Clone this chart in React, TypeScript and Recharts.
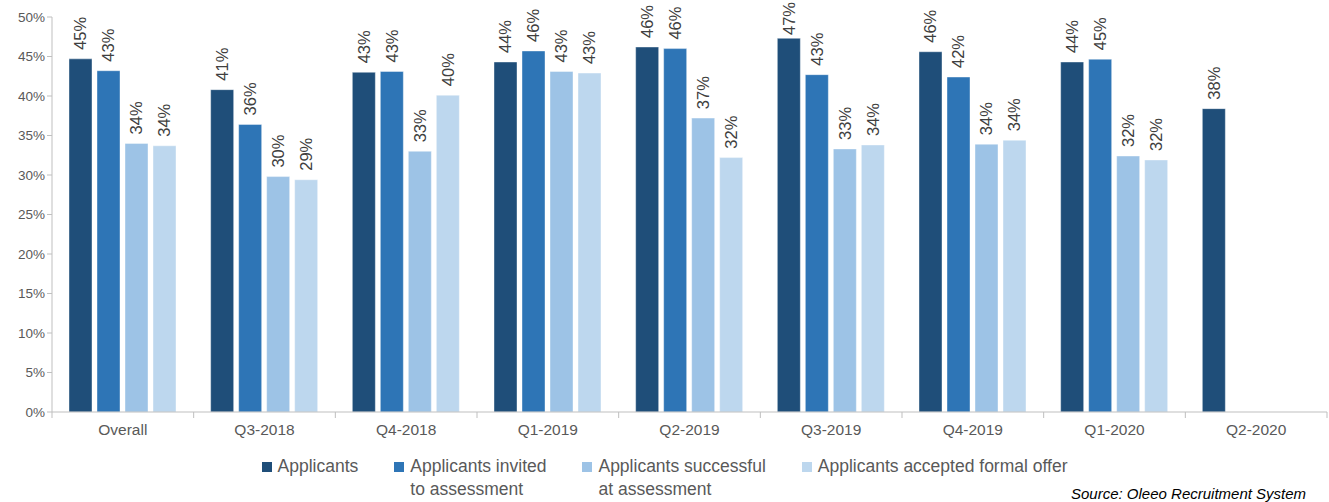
import { BarChart, Bar, XAxis, YAxis, Legend, LabelList } from "recharts";

const categories = ["Overall", "Q3-2018", "Q4-2018", "Q1-2019", "Q2-2019", "Q3-2019", "Q4-2019", "Q1-2020", "Q2-2020"];
const applicants = [44.7, 40.8, 43.0, 44.3, 46.2, 47.3, 45.6, 44.3, 38.4];
const invited = [43.2, 36.4, 43.1, 45.7, 46.0, 42.7, 42.4, 44.65, null];
const successful = [34.0, 29.8, 33.0, 43.1, 37.2, 33.3, 33.9, 32.4, null];
const accepted = [33.7, 29.4, 40.1, 42.9, 32.2, 33.8, 34.4, 31.9, null];
const yTicks = [0, 5, 10, 15, 20, 25, 30, 35, 40, 45, 50];

const series = [
  { key: "applicants", name: ["Applicants"], color: "#1F4E79" },
  { key: "invited", name: ["Applicants invited", "to assessment"], color: "#2E75B6" },
  { key: "successful", name: ["Applicants successful", "at assessment"], color: "#9DC3E6" },
  { key: "accepted", name: ["Applicants accepted formal offer"], color: "#BDD7EE" },
];

const data = categories.map((c, i) => ({
  cat: c,
  applicants: applicants[i],
  invited: invited[i],
  successful: successful[i],
  accepted: accepted[i],
}));

const W = 1329;
const H = 502;
const LEFT = 52;
const RIGHT = 2;
const band = (W - LEFT - RIGHT) / categories.length;
const FONT = "'Liberation Sans', Arial, sans-serif";
const TXT = "#595959";
const AXIS = "#BFBFBF";

const XTick = (props: any) => {
  const { x, y, payload, index } = props;
  return (
    <g>
      <line x1={x - band / 2} x2={x - band / 2} y1={y - 8} y2={y - 2} stroke={AXIS} />
      {index === categories.length - 1 && (
        <line x1={x + band / 2} x2={x + band / 2} y1={y - 8} y2={y - 2} stroke={AXIS} />
      )}
      <text x={x} y={y + 15} textAnchor="middle" fill={TXT} fontSize={15.5} fontFamily={FONT}>
        {payload.value}
      </text>
    </g>
  );
};

const BarLabel = (props: any) => {
  const { x, y, width, value } = props;
  if (value == null) return null;
  const cx = x + width / 2;
  // keep the tallest labels inside the frame, like the original
  const cy = Math.max(y - 9, 35);
  return (
    <text
      x={cx}
      y={cy}
      transform={`rotate(-90 ${cx} ${cy})`}
      textAnchor="start"
      dominantBaseline="central"
      fill="#404040"
      fontSize={16.5}
      fontFamily={FONT}
    >
      {`${Math.round(value)}%`}
    </text>
  );
};

const LegendContent = () => (
  <div style={{ display: "flex", justifyContent: "center", gap: 36, fontFamily: FONT, fontSize: 17.5, color: TXT, lineHeight: "23px" }}>
    {series.map((s) => (
      <div key={s.key} style={{ display: "flex", alignItems: "flex-start" }}>
        <span style={{ width: 10, height: 10, background: s.color, marginTop: 7, marginRight: 6, display: "inline-block" }} />
        <div>
          {s.name.map((l) => (
            <div key={l}>{l}</div>
          ))}
        </div>
      </div>
    ))}
  </div>
);

export default function App() {
  return (
    <div style={{ position: "absolute", left: 0, top: 0, width: W, height: H, background: "#fff", overflow: "hidden" }}>
      <BarChart
        width={W}
        height={H}
        data={data}
        margin={{ top: 17, right: RIGHT, bottom: 60, left: 0 }}
        barCategoryGap="12%"
        barGap={5}
      >
        <XAxis
          dataKey="cat"
          stroke={AXIS}
          tickLine={false}
          tick={<XTick />}
          height={30}
          interval={0}
        />
        <YAxis
          domain={[0, 50]}
          ticks={yTicks}
          width={LEFT}
          stroke={AXIS}
          tickSize={5}
          tick={{ fill: TXT, fontSize: 13.5, fontFamily: FONT }}
          tickFormatter={(v) => `${v}%`}
          interval={0}
        />
        <Legend
          layout="horizontal"
          verticalAlign="middle"
          align="center"
          content={<LegendContent />}
          wrapperStyle={{ position: "absolute", top: 455, left: 0, width: W }}
        />
        {series.map((s) => (
          <Bar key={s.key} dataKey={s.key} fill={s.color} stroke="#ffffff" strokeOpacity={0.4} isAnimationActive={false}>
            <LabelList dataKey={s.key} content={<BarLabel />} />
          </Bar>
        ))}
      </BarChart>
      <div
        style={{
          position: "absolute",
          left: 1071,
          top: 486,
          fontFamily: FONT,
          fontStyle: "italic",
          fontSize: 15,
          lineHeight: "16px",
          color: "#000",
          whiteSpace: "nowrap",
        }}
      >
        Source: Oleeo Recruitment System
      </div>
    </div>
  );
}
